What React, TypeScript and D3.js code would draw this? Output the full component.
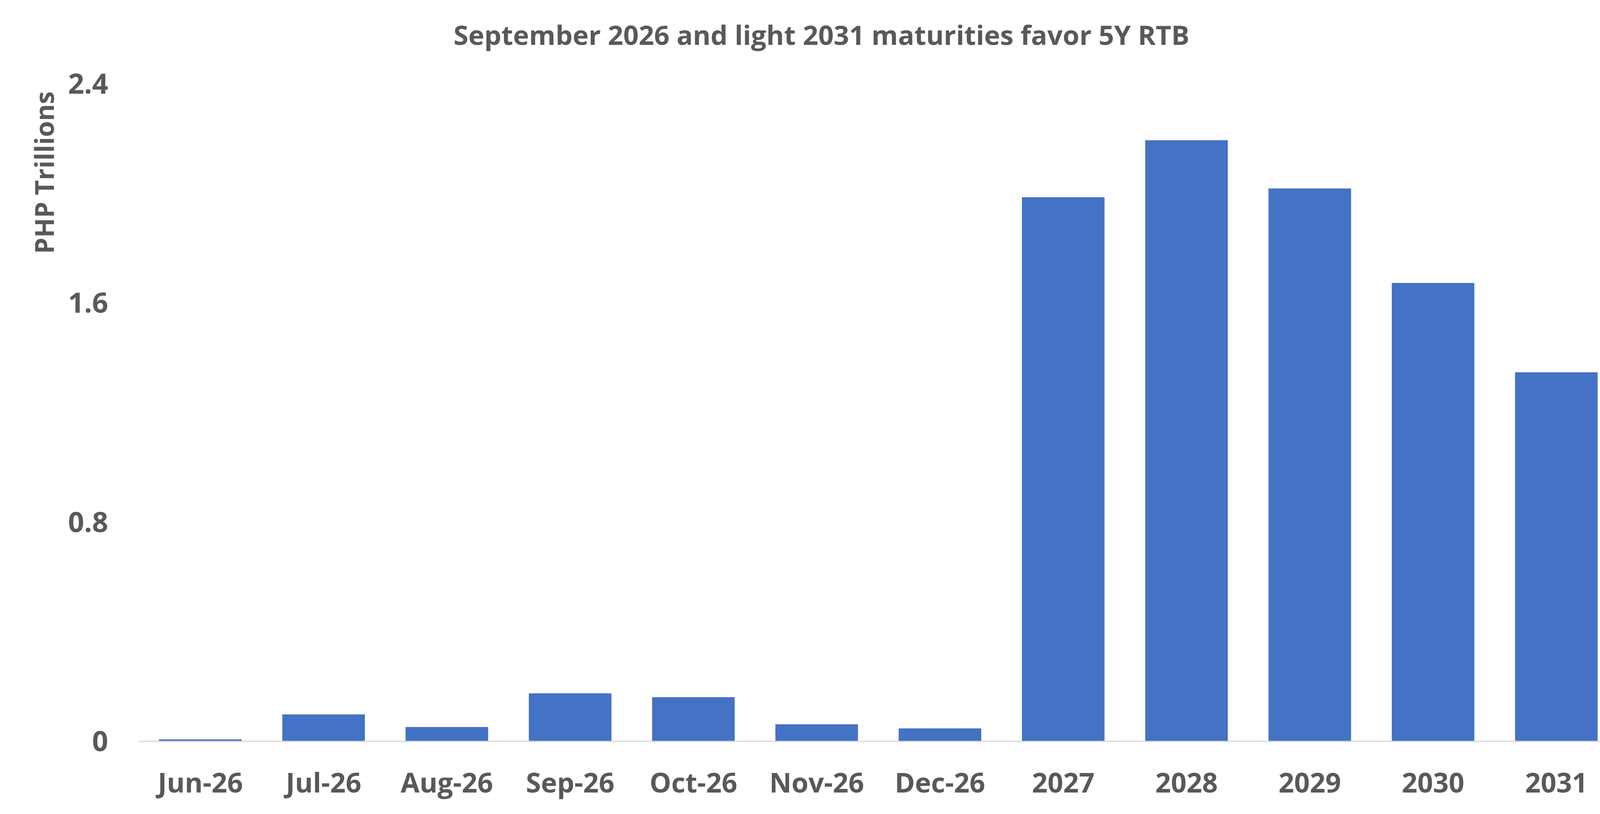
import { useEffect, useRef } from "react";
import * as d3 from "d3";

const categories = [
  "Jun-26",
  "Jul-26",
  "Aug-26",
  "Sep-26",
  "Oct-26",
  "Nov-26",
  "Dec-26",
  "2027",
  "2028",
  "2029",
  "2030",
  "2031",
];
// PHP trillions maturing
const maturities = [
  0.006, 0.097, 0.051, 0.174, 0.16, 0.061, 0.046, 1.985, 2.193, 2.017, 1.672,
  1.346,
];
const yTicks = [0, 0.8, 1.6, 2.4];

const title = "September 2026 and light 2031 maturities favor 5Y RTB";
const yTitle = "PHP Trillions";

const App = () => {
  const ref = useRef<SVGSVGElement>(null);
  const width = 4212;
  const height = 2085;
  const margin = { top: 214, right: 70, bottom: 187, left: 355 };
  const textColor = "#595959";
  const font = "'Open Sans', sans-serif";

  useEffect(() => {
    const svg = d3.select(ref.current);
    svg.selectAll("*").remove();

    const x = d3
      .scaleBand()
      .domain(categories)
      .range([margin.left, width - margin.right])
      .paddingInner(0.33)
      .paddingOuter(0.165);

    const y = d3
      .scaleLinear()
      .domain([0, 2.4])
      .range([height - margin.bottom, margin.top]);

    svg
      .append("rect")
      .attr("width", width)
      .attr("height", height)
      .attr("fill", "white");

    // title
    svg
      .append("text")
      .attr("x", 2103)
      .attr("y", 115)
      .attr("text-anchor", "middle")
      .attr("font-family", font)
      .attr("font-weight", 700)
      .attr("font-size", 68)
      .attr("fill", textColor)
      .attr("textLength", 1884)
      .attr("lengthAdjust", "spacingAndGlyphs")
      .text(title);

    // bars
    svg
      .append("g")
      .selectAll("rect")
      .data(maturities)
      .join("rect")
      .attr("x", (_, i) => x(categories[i]))
      .attr("y", (d) => y(d))
      .attr("width", x.bandwidth())
      .attr("height", (d) => y(0) - y(d))
      .attr("fill", "#4472C4");

    // baseline
    svg
      .append("line")
      .attr("x1", margin.left)
      .attr("x2", width - margin.right)
      .attr("y1", y(0) + 1)
      .attr("y2", y(0) + 1)
      .attr("stroke", "#d9d9d9")
      .attr("stroke-width", 3);

    // y ticks
    svg
      .append("g")
      .selectAll("text")
      .data(yTicks)
      .join("text")
      .attr("x", 277)
      .attr("y", (d) => y(d))
      .attr("dy", "0.36em")
      .attr("text-anchor", "end")
      .attr("font-family", font)
      .attr("font-weight", 700)
      .attr("font-size", 72)
      .attr("fill", textColor)
      .text((d) => (d === 0 ? "0" : d3.format(".1f")(d)));

    // x labels
    svg
      .append("g")
      .selectAll("text")
      .data(categories)
      .join("text")
      .attr("x", (d) => x(d) + x.bandwidth() / 2)
      .attr("y", 2030)
      .attr("text-anchor", "middle")
      .attr("font-family", font)
      .attr("font-weight", 700)
      .attr("font-size", 70)
      .attr("fill", textColor)
      .text((d) => d);

    // y axis title
    svg
      .append("text")
      .attr("transform", "translate(138, 442) rotate(-90)")
      .attr("text-anchor", "middle")
      .attr("font-family", font)
      .attr("font-weight", 700)
      .attr("font-size", 66)
      .attr("fill", textColor)
      .text(yTitle);
  }, []);

  return (
    <div style={{ position: "absolute", top: 0, left: 0 }}>
      <svg
        ref={ref}
        width={width}
        height={height}
        style={{ display: "block" }}
      />
    </div>
  );
};

export default App;
